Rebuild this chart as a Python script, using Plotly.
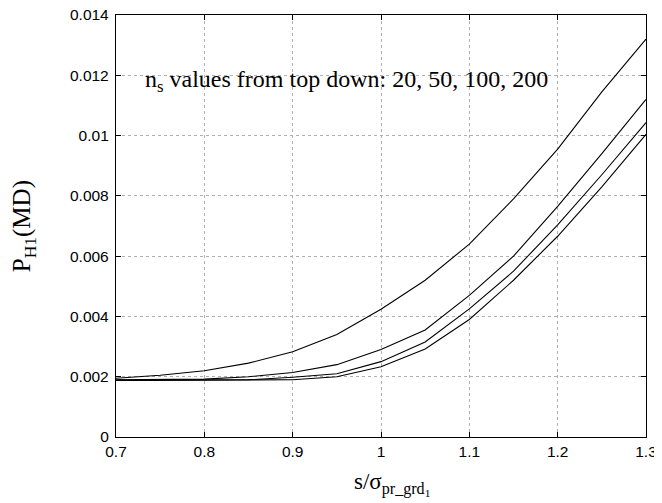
import plotly.graph_objects as go

s_vals = [0.7, 0.75, 0.8, 0.85, 0.9, 0.95, 1.0, 1.05, 1.1, 1.15, 1.2, 1.25, 1.3]
p_ns20 = [0.00195, 0.00205, 0.0022, 0.00245, 0.00283, 0.0034, 0.00424, 0.0052, 0.0064, 0.0079, 0.00955, 0.01145, 0.0132]
p_ns50 = [0.0019, 0.0019, 0.00192, 0.002, 0.00214, 0.0024, 0.0029, 0.00355, 0.0047, 0.0060, 0.00765, 0.0094, 0.0112]
p_ns100 = [0.00188, 0.00188, 0.00188, 0.0019, 0.00198, 0.0021, 0.0025, 0.00315, 0.00425, 0.0055, 0.00704, 0.0087, 0.01043]
p_ns200 = [0.00188, 0.00188, 0.00188, 0.00188, 0.0019, 0.002, 0.00233, 0.00292, 0.0039, 0.0052, 0.00666, 0.0083, 0.01004]
series = [("20", p_ns20), ("50", p_ns50), ("100", p_ns100), ("200", p_ns200)]

x_ticks = [0.7, 0.8, 0.9, 1.0, 1.1, 1.2, 1.3]
x_tick_labels = ["0.7", "0.8", "0.9", "1", "1.1", "1.2", "1.3"]
y_ticks = [0, 0.002, 0.004, 0.006, 0.008, 0.01, 0.012, 0.014]
y_tick_labels = ["0", "0.002", "0.004", "0.006", "0.008", "0.01", "0.012", "0.014"]

fig = go.Figure()
for name, vals in series:
    fig.add_trace(go.Scatter(x=s_vals, y=vals, mode="lines", name=name,
                             line=dict(color="black", width=1.1), showlegend=False))

axis_common = dict(showline=True, linecolor="black", linewidth=1.3, mirror="ticks",
                   ticks="inside", ticklen=5, tickcolor="black",
                   showgrid=True, gridcolor="#b0b0b0", griddash="dot", gridwidth=1,
                   zeroline=False, automargin=False, ticklabeloverflow="allow",
                   tickfont=dict(family="Liberation Sans, Arial", size=15.5, color="black"))

fig.update_xaxes(range=[0.7, 1.3], tickvals=x_ticks, ticktext=x_tick_labels, **axis_common)
fig.update_yaxes(range=[0, 0.014], tickvals=y_ticks, ticktext=y_tick_labels,
                 ticklabelstandoff=3, **axis_common)

serif = "Liberation Serif, Times New Roman"
fig.add_annotation(x=0.9605, y=0.0118, xref="x", yref="y", showarrow=False,
                   text="n<sub>s</sub> values from top down: 20, 50, 100, 200",
                   font=dict(family=serif, size=24, color="black"))
fig.add_annotation(x=1.012, y=-0.072, xref="x", yref="paper", showarrow=False,
                   xanchor="center", yanchor="top",
                   text="s/σ<sub>pr_grd<sub>1</sub></sub>",
                   font=dict(family=serif, size=23, color="black"))
fig.add_annotation(x=-0.175, y=0.5, xref="paper", yref="paper", showarrow=False,
                   xanchor="center", yanchor="middle", textangle=-90,
                   text="P<sub>H1</sub>(MD)",
                   font=dict(family=serif, size=25, color="black"))

# page body has an 8px default margin, so size/margins compensate for it
fig.update_layout(width=654, height=495, plot_bgcolor="white", paper_bgcolor="white",
                  margin=dict(l=108, r=16, t=7, b=66))

fig.write_html("out.html")
